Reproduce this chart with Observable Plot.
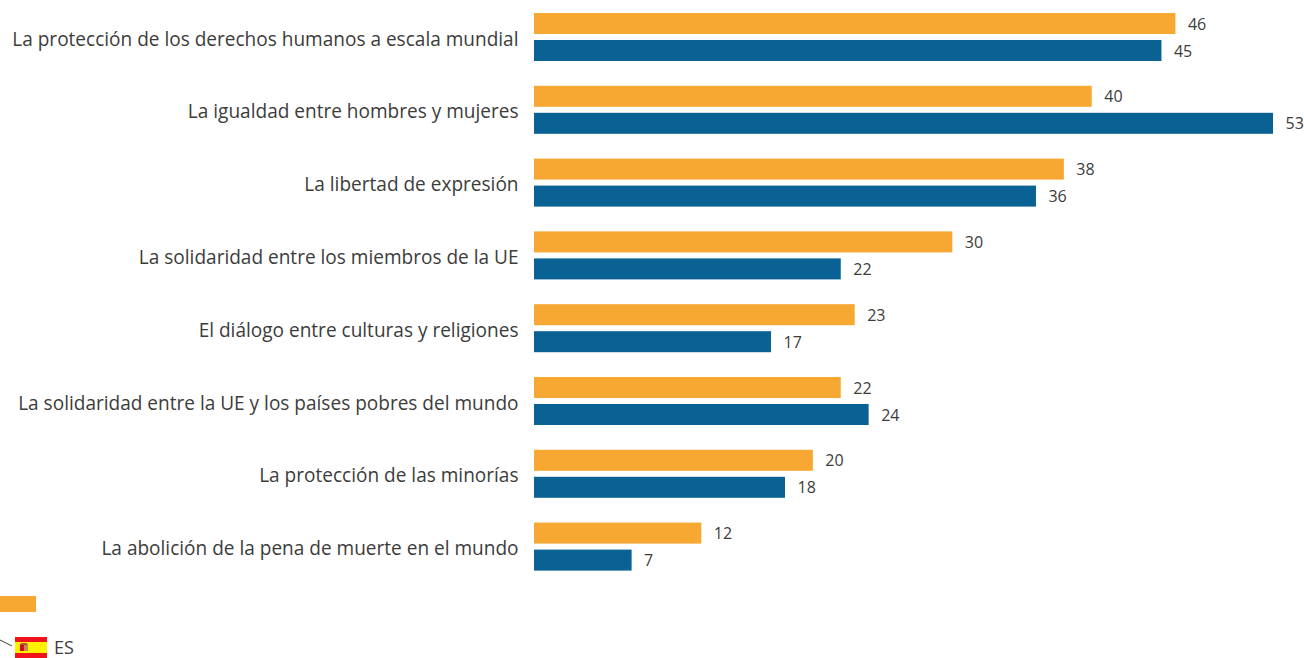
<!DOCTYPE html>
<html lang="es">
<head>
<meta charset="utf-8">
<script src="https://cdn.jsdelivr.net/npm/d3@7"></script>
<script src="https://cdn.jsdelivr.net/npm/@observablehq/plot@0.6"></script>
<style>
html,body{margin:0;padding:0;background:#fff;overflow:hidden}
#chart svg{display:block}
#legend{position:relative;height:68px;width:1304px;font-family:"Open Sans",sans-serif;color:#3c3c3b}
#legend .swatch{position:absolute;left:0;top:6px;width:36px;height:16px;background:#f7a833}
#legend svg{position:absolute;left:0;top:47px;overflow:visible}
#legend .code{position:absolute;left:54px;top:48px;font-size:18px;line-height:18px}
</style>
</head>
<body>
<div id="chart"></div>
<div id="legend">
  <div class="swatch"></div>
  <svg width="48" height="21" viewBox="0 0 48 21">
    <line x1="0" y1="3" x2="12" y2="9" stroke="#3c3c3b" stroke-width="1"/>
    <rect x="15" y="0" width="32" height="21" fill="#f0131b"/>
    <rect x="15" y="5" width="32" height="11" fill="#fdf000"/>
    <rect x="20" y="7" width="4" height="7" fill="#c8102e"/>
    <rect x="24" y="7" width="4" height="7" fill="#c98a3c"/>
    <rect x="21" y="6" width="6" height="2" fill="#b5533c"/>
  </svg>
  <div class="code">ES</div>
</div>
<script>
const categories = [
  "La protección de los derechos humanos a escala mundial",
  "La igualdad entre hombres y mujeres",
  "La libertad de expresión",
  "La solidaridad entre los miembros de la UE",
  "El diálogo entre culturas y religiones",
  "La solidaridad entre la UE y los países pobres del mundo",
  "La protección de las minorías",
  "La abolición de la pena de muerte en el mundo"
];
const seriesNames = ["UE", "ES"];
const ueValues = [46, 40, 38, 30, 23, 22, 20, 12];
const esValues = [45, 53, 36, 22, 17, 24, 18, 7];
const colors = ["#f7a833", "#0a6294"];

const rows = categories.flatMap((c, i) => [
  {category: c, series: seriesNames[0], value: ueValues[i]},
  {category: c, series: seriesNames[1], value: esValues[i]}
]);

const plot = Plot.plot({
  width: 1304,
  height: 590,
  marginLeft: 534,
  marginRight: 31,
  marginTop: 0.6,
  marginBottom: 7,
  style: {fontFamily: '"Open Sans", sans-serif', background: "#fff", color: "#3c3c3b"},
  x: {domain: [0, 53], axis: null},
  y: {domain: seriesNames, axis: null, paddingInner: 0.222, paddingOuter: 0.459, round: false},
  fy: {domain: categories, label: null, padding: 0, round: false},
  color: {domain: seriesNames, range: colors},
  marks: [
    Plot.axisFy({anchor: "left", label: null, tickSize: 0, tickPadding: 16, fontSize: 19.05, lineWidth: 60, textOverflow: null, dy: 2}),
    Plot.barX(rows, {x: "value", y: "series", fy: "category", fill: "series"}),
    Plot.text(rows, {x: "value", y: "series", fy: "category", text: d => String(d.value), textAnchor: "start", dx: 12, dy: 0.5, fontSize: 16, fill: "#3c3c3b"})
  ]
});
document.getElementById("chart").appendChild(plot);
</script>
</body>
</html>
